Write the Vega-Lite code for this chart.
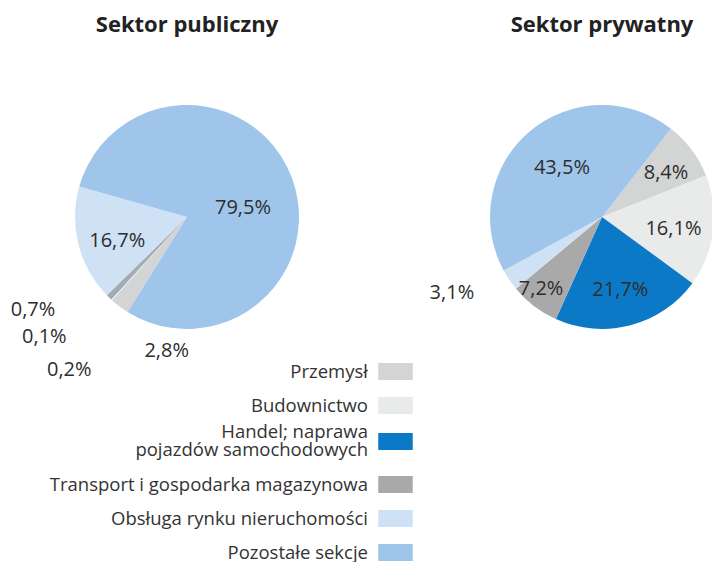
{
  "$schema": "https://vega.github.io/schema/vega-lite/v6.json",
  "padding": {"top": 14, "left": 0, "right": 0, "bottom": 0},
  "background": "white",
  "datasets": {
    "sectors": [
      {"sektor": "publiczny", "category": "Przemysł", "idx": 1, "share": 0.028},
      {"sektor": "publiczny", "category": "Budownictwo", "idx": 2, "share": 0.002},
      {"sektor": "publiczny", "category": "Handel; naprawa pojazdów samochodowych", "idx": 3, "share": 0.001},
      {"sektor": "publiczny", "category": "Transport i gospodarka magazynowa", "idx": 4, "share": 0.007},
      {"sektor": "publiczny", "category": "Obsługa rynku nieruchomości", "idx": 5, "share": 0.167},
      {"sektor": "publiczny", "category": "Pozostałe sekcje", "idx": 6, "share": 0.795},
      {"sektor": "prywatny", "category": "Przemysł", "idx": 1, "share": 0.084},
      {"sektor": "prywatny", "category": "Budownictwo", "idx": 2, "share": 0.161},
      {"sektor": "prywatny", "category": "Handel; naprawa pojazdów samochodowych", "idx": 3, "share": 0.217},
      {"sektor": "prywatny", "category": "Transport i gospodarka magazynowa", "idx": 4, "share": 0.072},
      {"sektor": "prywatny", "category": "Obsługa rynku nieruchomości", "idx": 5, "share": 0.031},
      {"sektor": "prywatny", "category": "Pozostałe sekcje", "idx": 6, "share": 0.435}
    ]
  },
  "data": {"name": "sectors"},
  "spacing": 118,
  "bounds": "flush",
  "resolve": {"scale": {"theta": "independent", "color": "shared"}, "legend": {"color": "shared"}},
  "hconcat": [
    {
      "title": {"text": "Sektor publiczny"},
      "width": 374,
      "height": 340,
      "transform": [{"filter": "datum.sektor == 'publiczny'"}],
      "layer": [
        {
          "mark": {"type": "arc", "outerRadius": 112, "stroke": null},
          "encoding": {
            "theta": {"field": "share", "type": "quantitative", "stack": true, "scale": {"range": [3.7001, 9.9833]}},
            "order": {"field": "idx", "type": "quantitative"},
            "color": {
              "field": "category", "type": "nominal",
              "scale": {
                "domain": ["Przemysł", "Budownictwo", "Handel; naprawa pojazdów samochodowych", "Transport i gospodarka magazynowa", "Obsługa rynku nieruchomości", "Pozostałe sekcje"],
                "range": ["#d3d4d4", "#e9ebeb", "#0b79c6", "#a9a9a9", "#cfe1f4", "#a0c5ea"]
              },
              "legend": {
                "title": null,
                "orient": "none",
                "legendX": 378,
                "legendY": 307,
                "symbolType": "M-1,-0.5H1V0.5H-1Z",
                "symbolSize": 1190,
                "symbolStrokeWidth": 0,
                "symbolOpacity": 1,
                "labelAlign": "right",
                "labelBaseline": {"expr": "datum.value == 'Handel; naprawa pojazdów samochodowych' ? 'line-bottom' : 'middle'"},
                "labelOffset": -45,
                "labelFont": "Open Sans",
                "labelFontSize": 18.5,
                "labelColor": "#333333",
                "labelLimit": 500,
                "rowPadding": 7,
                "labelExpr": "datum.label == 'Handel; naprawa pojazdów samochodowych' ? ['Handel; naprawa', 'pojazdów samochodowych'] : datum.label"
              }
            }
          }
        },
        {
          "mark": {"type": "text", "radius": 72, "dy": 6, "font": "Open Sans", "fontSize": 20, "color": "#2d2d2d"},
          "encoding": {
            "theta": {"field": "share", "type": "quantitative", "stack": true, "scale": {"range": [3.7001, 9.9833]}},
            "order": {"field": "idx", "type": "quantitative"},
            "detail": {"field": "category"},
            "text": {"condition": {"test": "datum.category != 'Obsługa rynku nieruchomości'", "value": ""}, "field": "share", "type": "quantitative", "format": ".1%"}
          }
        },
        {
          "mark": {"type": "text", "radius": 60, "dy": 13, "font": "Open Sans", "fontSize": 20, "color": "#2d2d2d"},
          "encoding": {
            "theta": {"field": "share", "type": "quantitative", "stack": true, "scale": {"range": [3.7001, 9.9833]}},
            "order": {"field": "idx", "type": "quantitative"},
            "detail": {"field": "category"},
            "text": {"condition": {"test": "datum.category != 'Pozostałe sekcje'", "value": ""}, "field": "share", "type": "quantitative", "format": ".1%"}
          }
        },
        {
          "mark": {"type": "text", "radius": 130, "dx": 58, "dy": 30, "font": "Open Sans", "fontSize": 20, "color": "#2d2d2d"},
          "encoding": {
            "theta": {"field": "share", "type": "quantitative", "stack": true, "scale": {"range": [3.7001, 9.9833]}},
            "order": {"field": "idx", "type": "quantitative"},
            "detail": {"field": "category"},
            "text": {"condition": {"test": "datum.category != 'Przemysł'", "value": ""}, "field": "share", "type": "quantitative", "format": ".1%"}
          }
        },
        {
          "mark": {"type": "text", "radius": 130, "dx": -30, "dy": 57, "font": "Open Sans", "fontSize": 20, "color": "#2d2d2d"},
          "encoding": {
            "theta": {"field": "share", "type": "quantitative", "stack": true, "scale": {"range": [3.7001, 9.9833]}},
            "order": {"field": "idx", "type": "quantitative"},
            "detail": {"field": "category"},
            "text": {"condition": {"test": "datum.category != 'Budownictwo'", "value": ""}, "field": "share", "type": "quantitative", "format": ".1%"}
          }
        },
        {
          "mark": {"type": "text", "radius": 130, "dx": -54, "dy": 25, "font": "Open Sans", "fontSize": 20, "color": "#2d2d2d"},
          "encoding": {
            "theta": {"field": "share", "type": "quantitative", "stack": true, "scale": {"range": [3.7001, 9.9833]}},
            "order": {"field": "idx", "type": "quantitative"},
            "detail": {"field": "category"},
            "text": {"condition": {"test": "datum.category != 'Handel; naprawa pojazdów samochodowych'", "value": ""}, "field": "share", "type": "quantitative", "format": ".1%"}
          }
        },
        {
          "mark": {"type": "text", "radius": 110, "dx": -77, "dy": 14, "font": "Open Sans", "fontSize": 20, "color": "#2d2d2d"},
          "encoding": {
            "theta": {"field": "share", "type": "quantitative", "stack": true, "scale": {"range": [3.7001, 9.9833]}},
            "order": {"field": "idx", "type": "quantitative"},
            "detail": {"field": "category"},
            "text": {"condition": {"test": "datum.category != 'Transport i gospodarka magazynowa'", "value": ""}, "field": "share", "type": "quantitative", "format": ".1%"}
          }
        }
      ]
    },
    {
      "title": {"text": "Sektor prywatny"},
      "width": 220,
      "height": 340,
      "transform": [{"filter": "datum.sektor == 'prywatny'"}],
      "layer": [
        {
          "mark": {"type": "arc", "outerRadius": 112, "stroke": null},
          "encoding": {
            "theta": {"field": "share", "type": "quantitative", "stack": true, "scale": {"range": [0.6632, 6.9464]}},
            "order": {"field": "idx", "type": "quantitative"},
            "color": {
              "field": "category", "type": "nominal",
              "scale": {
                "domain": ["Przemysł", "Budownictwo", "Handel; naprawa pojazdów samochodowych", "Transport i gospodarka magazynowa", "Obsługa rynku nieruchomości", "Pozostałe sekcje"],
                "range": ["#d3d4d4", "#e9ebeb", "#0b79c6", "#a9a9a9", "#cfe1f4", "#a0c5ea"]
              }
            }
          }
        },
        {
          "mark": {"type": "text", "radius": 72, "dy": 3, "font": "Open Sans", "fontSize": 20, "color": "#2d2d2d"},
          "encoding": {
            "theta": {"field": "share", "type": "quantitative", "stack": true, "scale": {"range": [0.6632, 6.9464]}},
            "order": {"field": "idx", "type": "quantitative"},
            "detail": {"field": "category"},
            "text": {"condition": {"test": "datum.category != 'Budownictwo' && datum.category != 'Handel; naprawa pojazdów samochodowych'", "value": ""}, "field": "share", "type": "quantitative", "format": ".1%"}
          }
        },
        {
          "mark": {"type": "text", "radius": 80, "dy": 4, "font": "Open Sans", "fontSize": 20, "color": "#2d2d2d"},
          "encoding": {
            "theta": {"field": "share", "type": "quantitative", "stack": true, "scale": {"range": [0.6632, 6.9464]}},
            "order": {"field": "idx", "type": "quantitative"},
            "detail": {"field": "category"},
            "text": {"condition": {"test": "datum.category != 'Przemysł'", "value": ""}, "field": "share", "type": "quantitative", "format": ".1%"}
          }
        },
        {
          "mark": {"type": "text", "radius": 62, "dy": -2, "font": "Open Sans", "fontSize": 20, "color": "#2d2d2d"},
          "encoding": {
            "theta": {"field": "share", "type": "quantitative", "stack": true, "scale": {"range": [0.6632, 6.9464]}},
            "order": {"field": "idx", "type": "quantitative"},
            "detail": {"field": "category"},
            "text": {"condition": {"test": "datum.category != 'Pozostałe sekcje'", "value": ""}, "field": "share", "type": "quantitative", "format": ".1%"}
          }
        },
        {
          "mark": {"type": "text", "radius": 94, "dx": -4, "dy": -3, "font": "Open Sans", "fontSize": 20, "color": "#2d2d2d"},
          "encoding": {
            "theta": {"field": "share", "type": "quantitative", "stack": true, "scale": {"range": [0.6632, 6.9464]}},
            "order": {"field": "idx", "type": "quantitative"},
            "detail": {"field": "category"},
            "text": {"condition": {"test": "datum.category != 'Transport i gospodarka magazynowa'", "value": ""}, "field": "share", "type": "quantitative", "format": ".1%"}
          }
        },
        {
          "mark": {"type": "text", "radius": 150, "dx": -26, "dy": -8, "font": "Open Sans", "fontSize": 20, "color": "#2d2d2d"},
          "encoding": {
            "theta": {"field": "share", "type": "quantitative", "stack": true, "scale": {"range": [0.6632, 6.9464]}},
            "order": {"field": "idx", "type": "quantitative"},
            "detail": {"field": "category"},
            "text": {"condition": {"test": "datum.category != 'Obsługa rynku nieruchomości'", "value": ""}, "field": "share", "type": "quantitative", "format": ".1%"}
          }
        }
      ]
    }
  ],
  "config": {
    "font": "Open Sans",
    "locale": {"number": {"decimal": ",", "thousands": " ", "grouping": [3], "currency": ["", " zł"]}},
    "view": {"stroke": null},
    "title": {"font": "Open Sans", "fontSize": 22, "fontWeight": "bold", "color": "#222222", "anchor": "middle", "offset": 10},
    "style": {"guide-label": {"lineHeight": 18.5}}
  }
}
